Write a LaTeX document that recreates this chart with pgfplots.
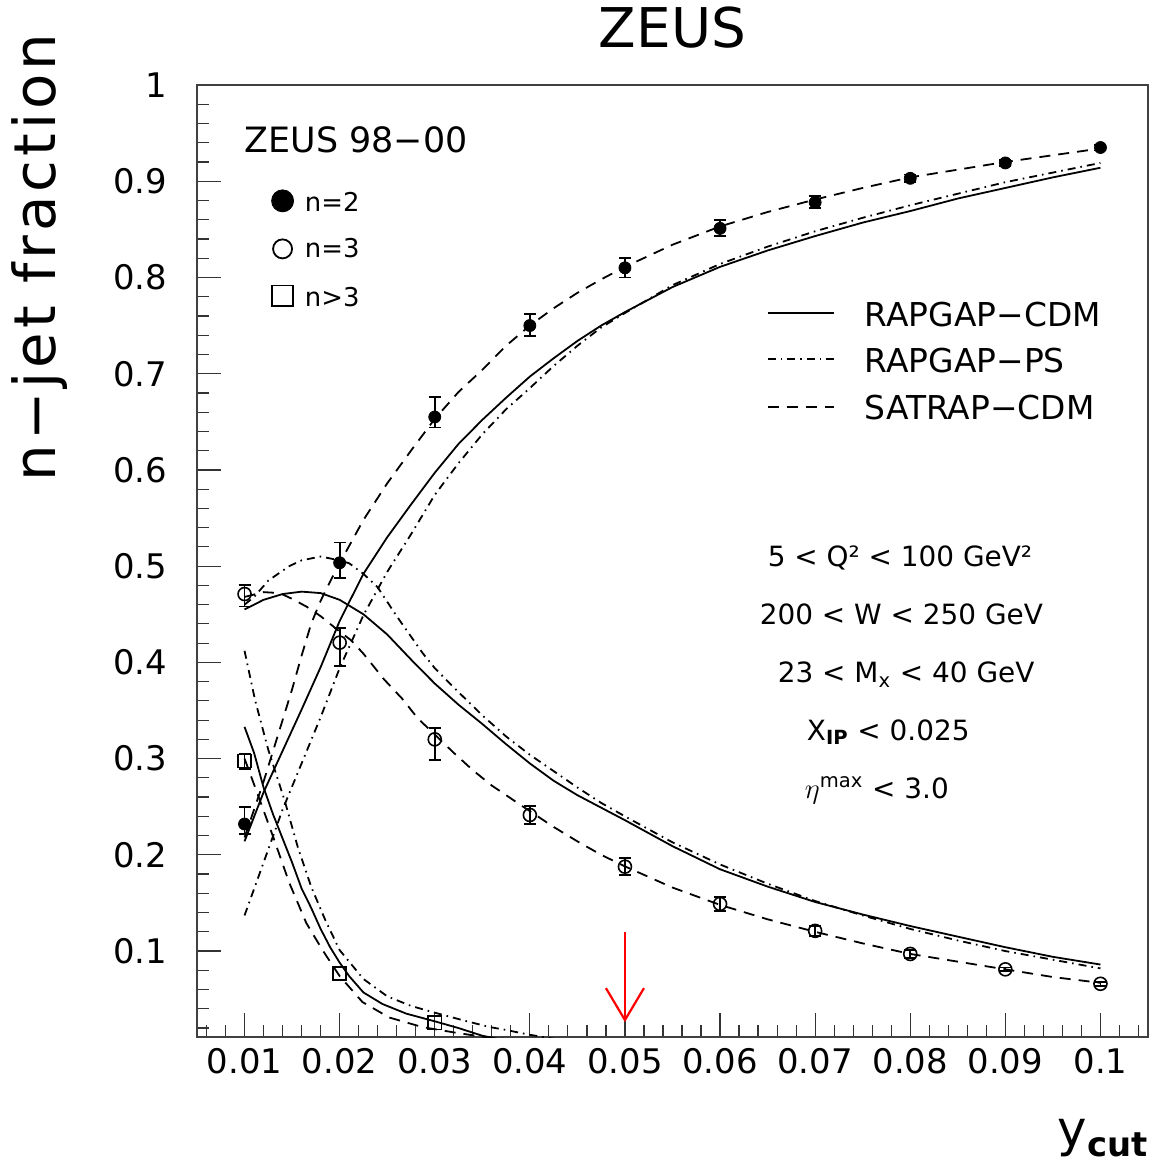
\documentclass[border=0pt]{standalone}
\usepackage{fontspec}
\setmainfont{DejaVu Sans}
\usepackage{pgfplots}
\pgfplotsset{compat=1.18}

% line styles of the three Monte Carlo models
\pgfplotsset{
  cdm/.style={black, no marks, line width=0.9bp, solid},
  ps/.style={black, no marks, line width=0.9bp, dash pattern=on 4bp off 2.5bp on 0.8bp off 2.5bp},
  sat/.style={black, no marks, line width=0.9bp, dash pattern=on 5.5bp off 4bp},
  errs/.style={error bars/.cd, y dir=both, y explicit,
    error bar style={line width=0.9bp, solid},
    error mark options={rotate=90, mark size=3bp, line width=0.9bp}},
}

\begin{document}
\begin{tikzpicture}
\begin{axis}[
  scale only axis, width=475.5bp, height=476bp,
  xmin=0.005, xmax=0.105, ymin=0.0107, ymax=1,
  axis line style={line width=0.8bp, black!75},
  tick pos=left, tick align=inside,
  major tick length=12bp, minor tick length=6bp,
  every tick/.style={line width=0.6bp, black!80},
  xtick={0.01,0.02,0.03,0.04,0.05,0.06,0.07,0.08,0.09,0.1},
  xticklabels={0.01,0.02,0.03,0.04,0.05,0.06,0.07,0.08,0.09,0.1},
  minor xtick={0.006,0.008,...,0.1041},
  ytick={0.1,0.2,0.3,0.4,0.5,0.6,0.7,0.8,0.9,1},
  yticklabels={0.1,0.2,0.3,0.4,0.5,0.6,0.7,0.8,0.9,1},
  minor ytick={0.02,0.04,...,0.99},
  scaled ticks=false,
  /pgf/number format/assume math mode=true,
  ticklabel style={font=\fontsize{17}{17}\selectfont},
  xticklabel style={yshift=-2bp},
  yticklabel style={xshift=-11.5bp},
  title={ZEUS},
  every axis title/.style={at={(rel axis cs:0.5,1.0389)}, anchor=base, inner sep=0pt,
    font=\fontsize{27.5}{27.5}\selectfont},
  xlabel={y\raisebox{-5bp}{\fontsize{17}{17}\selectfont\bfseries cut}},
  every axis x label/.style={at={(rel axis cs:1,-0.115)}, anchor=base east, inner sep=0pt,
    font=\fontsize{25}{25}\selectfont},
  ylabel={n−jet fraction},
  every axis y label/.style={at={(rel axis cs:-0.1493,0.8188)}, rotate=90, anchor=base, inner sep=0pt,
    font=\fontsize{29}{29}\selectfont\addfontfeature{LetterSpace=7}},
]

% ---- RAPGAP-CDM ----
\addplot[cdm] table {
x y
0.010 0.214
0.012 0.265
0.014 0.308
0.016 0.351
0.018 0.395
0.020 0.443
0.0225 0.492
0.025 0.530
0.0275 0.564
0.030 0.597
0.0325 0.627
0.035 0.652
0.0375 0.675
0.040 0.697
0.0425 0.716
0.045 0.734
0.0475 0.750
0.050 0.764
0.055 0.790
0.060 0.811
0.065 0.828
0.070 0.843
0.075 0.857
0.080 0.869
0.085 0.882
0.090 0.893
0.095 0.904
0.100 0.914
};
\addplot[cdm] table {
x y
0.010 0.455
0.012 0.465
0.014 0.471
0.016 0.4735
0.018 0.472
0.020 0.465
0.0225 0.450
0.025 0.429
0.0275 0.403
0.030 0.378
0.0325 0.356
0.035 0.336
0.0375 0.315
0.040 0.295
0.0425 0.277
0.045 0.262
0.0475 0.249
0.050 0.236
0.055 0.209
0.060 0.185
0.065 0.167
0.070 0.151
0.075 0.138
0.080 0.126
0.085 0.115
0.090 0.104
0.095 0.094
0.100 0.086
};
\addplot[cdm] table {
x y
0.010 0.333
0.011 0.306
0.012 0.270
0.013 0.242
0.014 0.217
0.015 0.192
0.016 0.165
0.017 0.145
0.018 0.123
0.019 0.104
0.020 0.088
0.021 0.074
0.0225 0.057
0.0245 0.045
0.027 0.035
0.030 0.027
0.0325 0.020
0.035 0.012
0.038 0.006
};

% ---- RAPGAP-PS ----
\addplot[ps] table {
x y
0.010 0.137
0.012 0.192
0.014 0.247
0.016 0.295
0.018 0.343
0.020 0.394
0.0225 0.449
0.025 0.494
0.0275 0.533
0.030 0.574
0.0325 0.607
0.035 0.637
0.0375 0.663
0.040 0.685
0.0425 0.708
0.045 0.729
0.0475 0.748
0.050 0.763
0.055 0.792
0.060 0.814
0.065 0.832
0.070 0.848
0.075 0.862
0.080 0.875
0.085 0.887
0.090 0.899
0.095 0.909
0.100 0.919
};
\addplot[ps] table {
x y
0.010 0.460
0.011 0.468
0.0125 0.485
0.0147 0.500
0.016 0.506
0.018 0.510
0.020 0.506
0.021 0.503
0.0225 0.492
0.024 0.478
0.026 0.448
0.0287 0.410
0.030 0.394
0.0323 0.371
0.035 0.345
0.0375 0.323
0.040 0.304
0.0428 0.285
0.045 0.270
0.0475 0.254
0.050 0.240
0.055 0.213
0.060 0.190
0.065 0.170
0.070 0.152
0.075 0.137
0.080 0.123
0.085 0.111
0.090 0.100
0.095 0.091
0.100 0.082
};
\addplot[ps] table {
x y
0.010 0.412
0.0111 0.361
0.0125 0.309
0.0142 0.257
0.0156 0.208
0.017 0.167
0.0185 0.132
0.020 0.101
0.0225 0.071
0.025 0.053
0.0275 0.043
0.030 0.036
0.033 0.028
0.0358 0.021
0.0375 0.018
0.040 0.013
0.043 0.008
};

% ---- SATRAP-CDM ----
\addplot[sat] table {
x y
0.010 0.218
0.011 0.247
0.012 0.276
0.013 0.308
0.014 0.340
0.015 0.372
0.016 0.407
0.017 0.440
0.018 0.464
0.019 0.484
0.020 0.503
0.0225 0.548
0.025 0.586
0.0275 0.620
0.030 0.653
0.0325 0.681
0.035 0.704
0.0375 0.729
0.040 0.750
0.0425 0.768
0.045 0.784
0.0475 0.798
0.050 0.811
0.055 0.834
0.060 0.853
0.065 0.868
0.070 0.881
0.075 0.893
0.080 0.904
0.085 0.912
0.090 0.920
0.095 0.927
0.100 0.934
};
\addplot[sat] table {
x y
0.010 0.468
0.012 0.473
0.0137 0.472
0.015 0.466
0.0165 0.458
0.018 0.448
0.020 0.432
0.0212 0.423
0.0225 0.409
0.0247 0.382
0.0266 0.362
0.0282 0.342
0.030 0.325
0.032 0.306
0.034 0.288
0.036 0.272
0.0393 0.250
0.0425 0.229
0.045 0.214
0.0475 0.200
0.050 0.188
0.055 0.166
0.060 0.148
0.065 0.133
0.070 0.120
0.075 0.108
0.080 0.097
0.085 0.089
0.090 0.081
0.095 0.073
0.100 0.067
};
\addplot[sat] table {
x y
0.010 0.300
0.01123 0.267
0.013 0.219
0.0147 0.171
0.0165 0.129
0.0182 0.101
0.020 0.074
0.0224 0.047
0.0252 0.031
0.0287 0.021
0.0323 0.015
0.035 0.011
0.040 0.006
};

% ---- ZEUS 98-00 data ----
\addplot[black, only marks, mark=*, mark size=3bp, errs] table[x=x, y=y, y error plus=ep, y error minus=em] {
x y ep em
0.01 0.232 0.018 0.010
0.02 0.5035 0.021 0.016
0.03 0.655 0.021 0.011
0.04 0.750 0.012 0.011
0.05 0.810 0.010 0.010
0.06 0.851 0.009 0.008
0.07 0.878 0.007 0.006
0.08 0.903 0.004 0.004
0.09 0.919 0.003 0.003
0.10 0.935 0.003 0.003
};
\addplot[black, only marks, mark=o, mark size=3.25bp, mark options={line width=0.8bp}, errs] table[x=x, y=y, y error plus=ep, y error minus=em] {
x y ep em
0.01 0.471 0.009 0.013
0.02 0.4205 0.015 0.024
0.03 0.320 0.0115 0.0215
0.04 0.2414 0.0094 0.0094
0.05 0.1877 0.0087 0.0087
0.06 0.149 0.007 0.007
0.07 0.121 0.005 0.005
0.08 0.097 0.004 0.004
0.09 0.081 0.002 0.002
0.10 0.066 0.002 0.002
};
\addplot[black, only marks, mark=square, mark size=3.3bp, mark options={line width=0.8bp}, errs] table[x=x, y=y, y error plus=ep, y error minus=em] {
x y ep em
0.01 0.2975 0.007 0.008
};
\addplot[black, only marks, mark=square, mark size=3.3bp, mark options={line width=0.8bp}] table {
x y
0.02 0.0768
0.03 0.0255
};

% ---- data legend ----
\node[anchor=base west, inner sep=0pt, font=\fontsize{17.5}{17.5}\selectfont] at (axis cs:0.0100,0.9295) {ZEUS 98−00};
\addplot[black, only marks, mark=*, mark size=5.5bp] coordinates {(0.0140,0.8796)};
\addplot[black, only marks, mark=o, mark size=4.75bp, mark options={line width=0.9bp}] coordinates {(0.0140,0.8297)};
\addplot[black, only marks, mark=square, mark size=5.2bp, mark options={line width=0.9bp}] coordinates {(0.0140,0.7809)};
\node[anchor=base west, inner sep=0pt, font=\fontsize{13}{13}\selectfont] at (axis cs:0.01631,0.8685) {n=2};
\node[anchor=base west, inner sep=0pt, font=\fontsize{13}{13}\selectfont] at (axis cs:0.01631,0.8204) {n=3};
\node[anchor=base west, inner sep=0pt, font=\fontsize{13}{13}\selectfont] at (axis cs:0.01631,0.7698) {n>3};

% ---- model legend ----
\addplot[cdm] coordinates {(0.06499,0.7632) (0.07203,0.7632)};
\addplot[ps] coordinates {(0.06499,0.7154) (0.07203,0.7154)};
\addplot[sat] coordinates {(0.06499,0.6655) (0.07203,0.6655)};
\node[anchor=base west, inner sep=0pt, font=\fontsize{16.5}{16.5}\selectfont] at (axis cs:0.07519,0.7486) {RAPGAP−CDM};
\node[anchor=base west, inner sep=0pt, font=\fontsize{16.5}{16.5}\selectfont] at (axis cs:0.07519,0.7008) {RAPGAP−PS};
\node[anchor=base west, inner sep=0pt, font=\fontsize{16.5}{16.5}\selectfont] at (axis cs:0.07519,0.6520) {SATRAP−CDM};

% ---- kinematic range ----
\node[anchor=base west, inner sep=0pt, font=\fontsize{14}{14}\selectfont] at (axis cs:0.06499,0.4992) {5 < Q² < 100 GeV²};
\node[anchor=base west, inner sep=0pt, font=\fontsize{14}{14}\selectfont] at (axis cs:0.06415,0.4389) {200 < W < 250 GeV};
\node[anchor=base west, inner sep=0pt, font=\fontsize{14}{14}\selectfont] at (axis cs:0.06604,0.3786) {23 < M\textsubscript{x} < 40 GeV};
\node[anchor=base west, inner sep=0pt, font=\fontsize{14}{14}\selectfont] at (axis cs:0.06909,0.3193) {X\textsubscript{\bfseries IP} < 0.025};
\node[anchor=base west, inner sep=0pt, font=\fontsize{14}{14}\selectfont] at (axis cs:0.06888,0.2590) {$\eta$\textsuperscript{max} < 3.0};

% ---- y_cut = 0.05 arrow ----
\draw[red, line width=1.1bp] (axis cs:0.05,0.1198) -- (axis cs:0.05,0.0283);
\draw[red, line width=1.1bp] (axis cs:0.048,0.0615) -- (axis cs:0.05,0.0283) -- (axis cs:0.052,0.0615);
\end{axis}
\pgfresetboundingbox
\path[use as bounding box] ([xshift=-98.5bp,yshift=-63.5bp]current axis.south west) rectangle ([xshift=9bp,yshift=42.5bp]current axis.north east);
\end{tikzpicture}
\end{document}
